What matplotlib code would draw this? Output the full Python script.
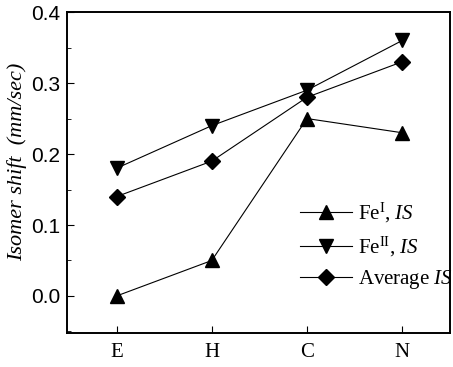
import matplotlib
matplotlib.use("Agg")
import matplotlib.pyplot as plt
from matplotlib.ticker import MultipleLocator, FormatStrFormatter

# data
categories = ["E", "H", "C", "N"]
fe1_is = [0.00, 0.05, 0.25, 0.23]
fe2_is = [0.18, 0.24, 0.29, 0.36]
avg_is = [0.14, 0.19, 0.28, 0.33]

serif = "Liberation Serif"
sans = "Liberation Sans"

plt.rcParams["mathtext.fontset"] = "custom"
plt.rcParams["mathtext.rm"] = serif
plt.rcParams["mathtext.it"] = serif + ":italic"

fig = plt.figure(figsize=(4.53, 3.67), dpi=100)
ax = fig.add_axes([0.148, 0.093, 0.845, 0.874])

x = list(range(1, len(categories) + 1))
ax.plot(x, fe1_is, "-^", color="black", lw=0.8, ms=10, label=r"Fe$^{\rm I}$, $\it{IS}$")
ax.plot(x, fe2_is, "-v", color="black", lw=0.8, ms=10, label=r"Fe$^{\rm II}$, $\it{IS}$")
ax.plot(x, avg_is, "-D", color="black", lw=0.8, ms=8, label=r"Average $\it{IS}$")

ax.set_xlim(0.48, 4.5)
ax.set_ylim(-0.052, 0.4)
ax.set_xticks(x)
ax.set_xticklabels(categories, fontfamily=serif, fontsize=15)
ax.yaxis.set_major_locator(MultipleLocator(0.1))
ax.yaxis.set_minor_locator(MultipleLocator(0.05))
ax.yaxis.set_major_formatter(FormatStrFormatter("%.1f"))
ax.tick_params(axis="both", which="both", direction="in", top=False, right=False)
ax.tick_params(axis="y", which="major", length=5, labelsize=15, pad=5)
ax.tick_params(axis="y", which="minor", length=3)
ax.tick_params(axis="x", which="major", length=5, pad=7)
for lab in ax.get_yticklabels():
    lab.set_fontfamily(sans)
for s in ax.spines.values():
    s.set_linewidth(1.4)

ax.set_ylabel("Isomer shift  (mm/sec)", fontfamily=serif, fontstyle="italic",
              fontsize=16)
ax.yaxis.set_label_coords(-0.105, 0.533)

leg = ax.legend(loc="upper left", bbox_to_anchor=(300 / 453, 1 - 201 / 367),
                bbox_transform=fig.transFigure, frameon=False,
                prop={"family": serif, "size": 15}, handlelength=2.5,
                handletextpad=0.3, labelspacing=0.45, borderpad=0,
                borderaxespad=0)

fig.savefig("out.png", dpi=100)
